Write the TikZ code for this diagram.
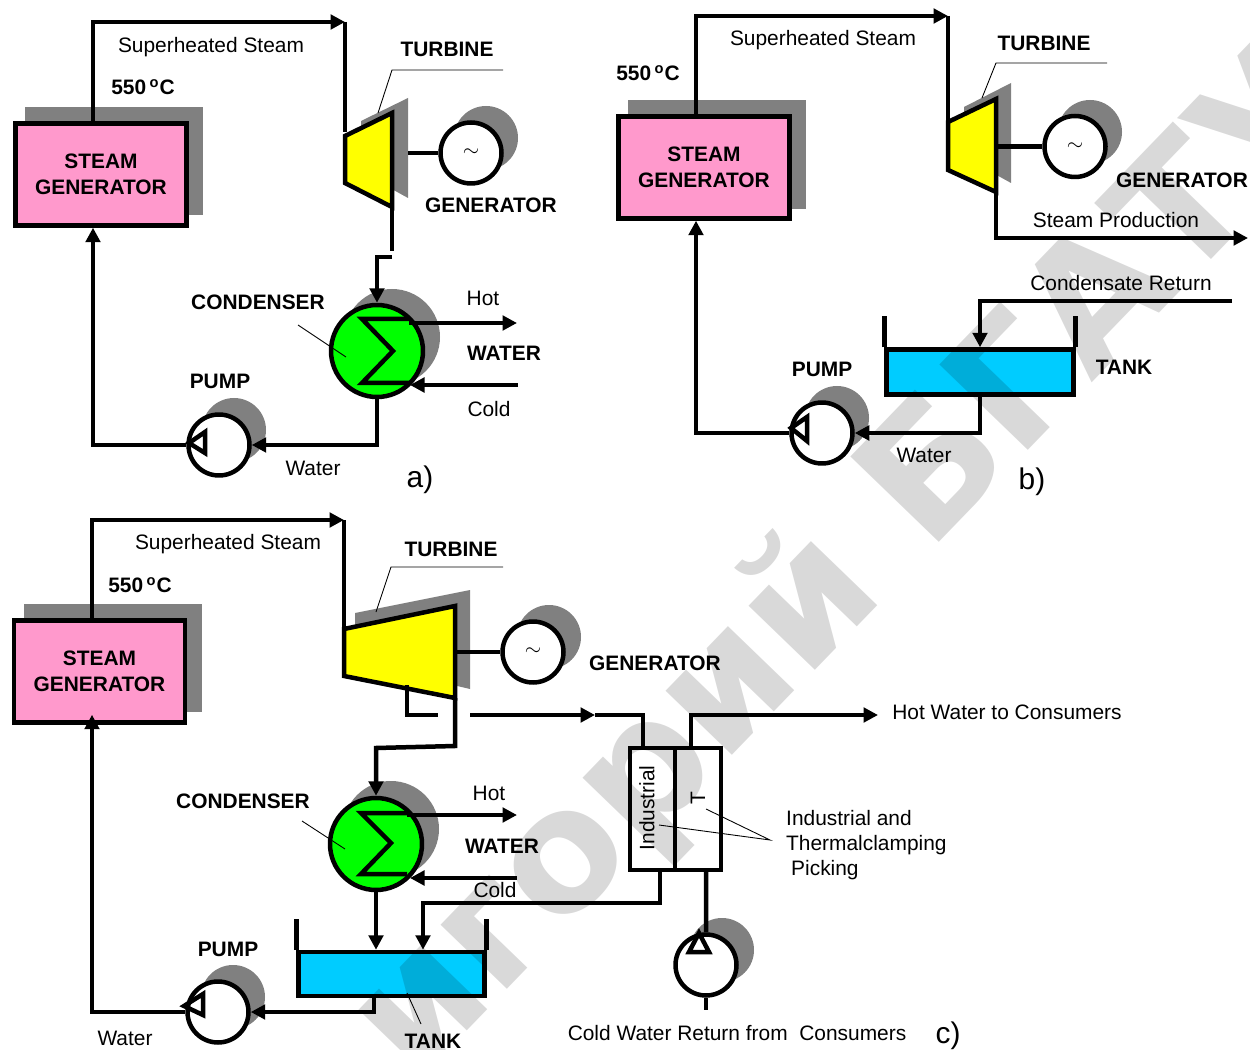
\documentclass[tikz,border=0pt]{standalone}
\usepackage{fontspec}
\setmainfont{Liberation Sans}
\newfontfamily\markfont{DejaVu Sans}
\usepackage{xcolor}
\usetikzlibrary{arrows.meta, positioning, calc}

\definecolor{shadegray}{HTML}{808080}
\definecolor{sgpink}{HTML}{FF99CC}
\definecolor{turbyellow}{HTML}{FFFF00}
\definecolor{condgreen}{HTML}{00FF00}
\definecolor{tankblue}{HTML}{00CCFF}

\tikzset{
  pipe/.style={line width=0.09cm},
  flow/.style={pipe, -{Triangle[length=0.29cm,width=0.29cm]}},
  leader/.style={line width=0.5pt},
  shade/.style={fill=shadegray, draw=none},
  sgbox/.style={draw, pipe, rectangle, minimum width=3.42cm, minimum height=2.04cm, fill=sgpink, align=center, font=\bfseries\fontsize{11.9}{14.8}\selectfont},
  turbbody/.style={draw, pipe, fill=turbyellow},
  genring/.style={draw, pipe, circle, minimum size=1.22cm, fill=white, inner sep=0pt},
  condring/.style={draw, pipe, circle, minimum size=1.84cm, fill=condgreen, inner sep=0pt},
  tankbody/.style={draw, pipe, rectangle, fill=tankblue},
  heater/.style={draw, pipe, rectangle, minimum height=2.44cm},
  txt/.style={font=\fontsize{11.9}{14.2}\selectfont},
  boldtxt/.style={font=\bfseries\fontsize{11.9}{14.2}\selectfont},
  sublabel/.style={font=\fontsize{17}{20}\selectfont}
}

\begin{document}
\begin{tikzpicture}[x=0.02cm, y=-0.02cm]
\useasboundingbox (0,0) rectangle (1250,1050);

% a)
\fill[shade] (25,107) rectangle (203,215);
\fill[shade] (361,121) -- (408,98) -- (408,198) -- (361,172) -- cycle;
\fill[shade] (486,138) circle (32);
\fill[shade] (392,337) circle (48);
\fill[shade] (234,430) circle (32);
\node[sgbox] (sga) at (101,174.5) {STEAM\\GENERATOR};
\draw[turbbody] (345,136) -- (392,113) -- (392,207) -- (345,183) -- cycle;
\node[genring] (gena) at (471,153) {\fontsize{12}{12}\selectfont\raisebox{-3pt}{$\sim$}};
\node[condring] (conda) at (377,351) {};
\node[genring] (pumpa) at (219,445) {};
\coordinate (turbatop) at (345,22);
\coordinate (turbain) at (345,132);
\coordinate (turbashaft) at (408,153);
\coordinate (turbaout) at (392,207);
\coordinate (turbagap) at (392,251);
\coordinate (conda in) at (392,257);
\coordinate (hotaout) at (517,323);
\coordinate (hotain) at (409,323);
\coordinate (coldaout) at (518,385);
\coordinate (coldain) at (410,385);
\draw[flow] ([xshift=-0.16cm]sga.north) |- (turbatop);
\draw[pipe] (turbatop) -- (turbain);
\draw[pipe] (turbashaft) -- (gena.west);
\draw[pipe] (turbaout) -- (turbagap);
\draw[flow] (conda in) -| (conda.north);
\draw[pipe] (409,319) -- (362,319) -- (393,351) -- (362,383) -- (409,383);
\draw[flow] (hotain) -- (hotaout);
\draw[flow] (coldaout) -- (coldain);
\draw[flow] (conda.south) |- (pumpa.east);
\draw[flow] (pumpa.west) -| ([xshift=-0.16cm]sga.south);
\draw[pipe] (205,432) -- (205,453) -- (189,443) -- cycle;
\node[txt] (steama) at (211,47) {Superheated Steam};
\node[boldtxt] (tempa) at (143,87) {550\,\textsuperscript{o}C};
\node[boldtxt] (turbalbl) at (447,49) {TURBINE};
\node[boldtxt] (genalbl) at (491,205) {GENERATOR};
\node[boldtxt] (condalbl) at (258,302) {CONDENSER};
\node[boldtxt] (pumpalbl) at (220,381) {PUMP};
\node[boldtxt] (wateralbl) at (504,353) {WATER};
\node[txt] (hotalbl) at (483,298) {Hot};
\node[txt] (coldalbl) at (489,409) {Cold};
\node[txt] (feedalbl) at (313,468) {Water};
\node[sublabel] (suba) at (420,480) {a)};
\draw[leader] (378,113) -- (392,70) -- (503,70);
\draw[leader] (298,325) -- (346,357);

% b)
\fill[shade] (628,100) rectangle (806,209);
\fill[shade] (964,107) -- (1011,83) -- (1011,183) -- (964,157) -- cycle;
\fill[shade] (1090,132) circle (32);
\fill[shade] (837,418) circle (32);
\node[sgbox] (sgb) at (704,167.5) {STEAM\\GENERATOR};
\draw[turbbody] (948,122) -- (996,99) -- (996,192) -- (948,170) -- cycle;
\node[genring] (genb) at (1075,146.5) {\fontsize{12}{12}\selectfont\raisebox{-3pt}{$\sim$}};
\node[tankbody, minimum width=3.74cm, minimum height=0.9cm] (tankb) at (980,372) {};
\node[genring] (pumpb) at (822,433) {};
\coordinate (turbbtop) at (948,16);
\coordinate (turbbin) at (948,125);
\coordinate (turbbshaft) at (996,146.5);
\coordinate (turbbout) at (996,192);
\coordinate (prodb) at (1248,238);
\coordinate (condretb) at (1232,301);
\draw[flow] ([xshift=-0.16cm]sgb.north) |- (turbbtop);
\draw[pipe] (turbbtop) -- (turbbin);
\draw[pipe] (turbbshaft) -- (genb.west);
\draw[flow] (turbbout) |- (prodb);
\draw[flow] (condretb) -| (tankb.north);
\draw[pipe] (tankb.north west) -- ++(0,-31);
\draw[pipe] (tankb.north east) -- ++(0,-31);
\draw[flow] (tankb.south) |- (pumpb.east);
\draw[flow] (pumpb.west) -| ([xshift=-0.16cm]sgb.south);
\draw[pipe] (807,417) -- (807,441) -- (791,428) -- cycle;
\node[txt] (steamb) at (823,40) {Superheated Steam};
\node[boldtxt] (tempb) at (648,73) {550\,\textsuperscript{o}C};
\node[boldtxt] (turbblbl) at (1044,43) {TURBINE};
\node[boldtxt] (genblbl) at (1182,180) {GENERATOR};
\node[txt] (prodblbl) at (1116,220) {Steam Production};
\node[txt] (condblbl) at (1121,283) {Condensate Return};
\node[boldtxt] (tankblbl) at (1124,367) {TANK};
\node[boldtxt] (pumpblbl) at (822,369) {PUMP};
\node[txt] (feedblbl) at (924,455) {Water};
\node[sublabel] (subb) at (1032,482) {b)};
\draw[leader] (982,98) -- (996,63) -- (1107,63);

% c)
\fill[shade] (24,604) rectangle (202,712);
\fill[shade] (355,613) -- (470,590) -- (470,689) -- (355,662) -- cycle;
\fill[shade] (549,637) circle (32);
\fill[shade] (391,829) circle (48);
\fill[shade] (233,997) circle (32);
\fill[shade] (722,950) circle (32);
\node[sgbox] (sgc) at (99.5,671.5) {STEAM\\GENERATOR};
\draw[turbbody] (344,629) -- (455,606) -- (455,698) -- (344,676) -- cycle;
\node[genring] (genc) at (533,652) {\fontsize{12}{12}\selectfont\raisebox{-3pt}{$\sim$}};
\node[condring] (condc) at (376,844) {};
\node[tankbody, minimum width=3.72cm, minimum height=0.88cm] (tankc) at (391.5,974) {};
\node[genring] (pumpc) at (218,1012) {};
\node[genring] (pumpd) at (706,965) {};
\node[heater, minimum width=0.9cm] (indc) at (652.5,809) {};
\node[heater, minimum width=0.92cm] (thc) at (698,809) {};
\coordinate (turbctop) at (344,520);
\coordinate (turbcin) at (344,628);
\coordinate (turbcshaft) at (455,652);
\coordinate (turbcout) at (455,698);
\coordinate (bendc) at (455,746);
\coordinate (bendd) at (376,748);
\coordinate (bleedc) at (407,685);
\coordinate (bleedgap) at (438,715);
\coordinate (bleedin) at (470,715);
\coordinate (bleedtip) at (595,715);
\coordinate (hotwater) at (878,715);
\coordinate (hotcout) at (517,815);
\coordinate (hotcin) at (407,815);
\coordinate (coldcout) at (517,878);
\coordinate (coldcin) at (410,878);
\coordinate (coldret) at (706,1010);
\draw[flow] ([xshift=-0.15cm]sgc.north) |- (turbctop);
\draw[pipe] (turbctop) -- (turbcin);
\draw[pipe] (turbcshaft) -- (genc.west);
\draw[pipe] (bleedc) |- (bleedgap);
\draw[flow] (bleedin) -- (bleedtip);
\draw[pipe] (bleedtip) -| ([xshift=-0.19cm]indc.north);
\draw[flow] ([xshift=-0.14cm]thc.north) |- (hotwater);
\draw[flow] (turbcout) -- (bendc) -- (bendd) -- (condc.north);
\draw[pipe] (407,813) -- (361,813) -- (391,843) -- (361,874) -- (407,874);
\draw[flow] (hotcin) -- (hotcout);
\draw[flow] (coldcout) -- (coldcin);
\draw[flow] (condc.south) -- (condc.south |- tankc.north);
\draw[flow] ([xshift=0.15cm]indc.south) -- ++(0,31) -| ([xshift=0.63cm]tankc.north);
\draw[pipe] (tankc.north west) -- ++(0,-31);
\draw[pipe] (tankc.north east) -- ++(0,-31);
\draw[flow] ([xshift=-0.35cm]tankc.south) |- (pumpc.east);
\draw[flow] (pumpc.west) -| ([xshift=-0.15cm,yshift=0.2cm]sgc.south);
\draw[pipe] (203,994) -- (203,1015) -- (184,1006) -- cycle;
\draw[pipe] ([xshift=0.16cm]thc.south) -- (pumpd.north);
\draw[pipe] (pumpd.south) -- (coldret);
\draw[pipe] (689,952) -- (709,952) -- (699,933) -- cycle;
\node[txt] (steamc) at (228,544) {Superheated Steam};
\node[boldtxt] (tempc) at (140,585) {550\,\textsuperscript{o}C};
\node[boldtxt] (turbclbl) at (451,549) {TURBINE};
\node[boldtxt] (genclbl) at (655,663) {GENERATOR};
\node[boldtxt] (condclbl) at (243,801) {CONDENSER};
\node[boldtxt] (pumpclbl) at (228,949) {PUMP};
\node[boldtxt] (waterclbl) at (502,846) {WATER};
\node[boldtxt] (tankclbl) at (433,1041) {TANK};
\node[txt] (hotclbl) at (489,793) {Hot};
\node[txt] (coldclbl) at (495,890) {Cold};
\node[txt] (feedclbl) at (125,1038) {Water};
\node[txt, rotate=90] (indlbl) at (647,808) {Industrial};
\node[txt, rotate=90] (thlbl) at (698,798) {T};
\node[txt, anchor=west, align=left] (heatlbl) at (780,845.5) {Industrial and\\Thermalclamping\\\hspace{0.1cm}Picking};
\node[txt] (hotwlbl) at (1007,712) {Hot Water to Consumers};
\node[txt] (coldwlbl) at (737,1033) {Cold Water Return from\ \ Consumers};
\node[sublabel] (subc) at (948,1036) {c)};
\coordinate (heatjoin) at (770,840);
\draw[leader] (376,612) -- (391,567) -- (503,567);
\draw[leader] (302,821) -- (345,849);
\draw[leader] (407,993) -- (421,1024);
\draw[leader] (706,809) -- (heatjoin) -- (659,825);

% watermark
\begin{scope}
\clip (0,0) rectangle (1250,1050);
\node[text=black, text opacity=0.15, rotate=46, anchor=base west, font=\markfont\bfseries\fontsize{96}{96}\selectfont] (wmark) at (411,1089) {игорий БГАТУ};
\end{scope}
\end{tikzpicture}
\end{document}
